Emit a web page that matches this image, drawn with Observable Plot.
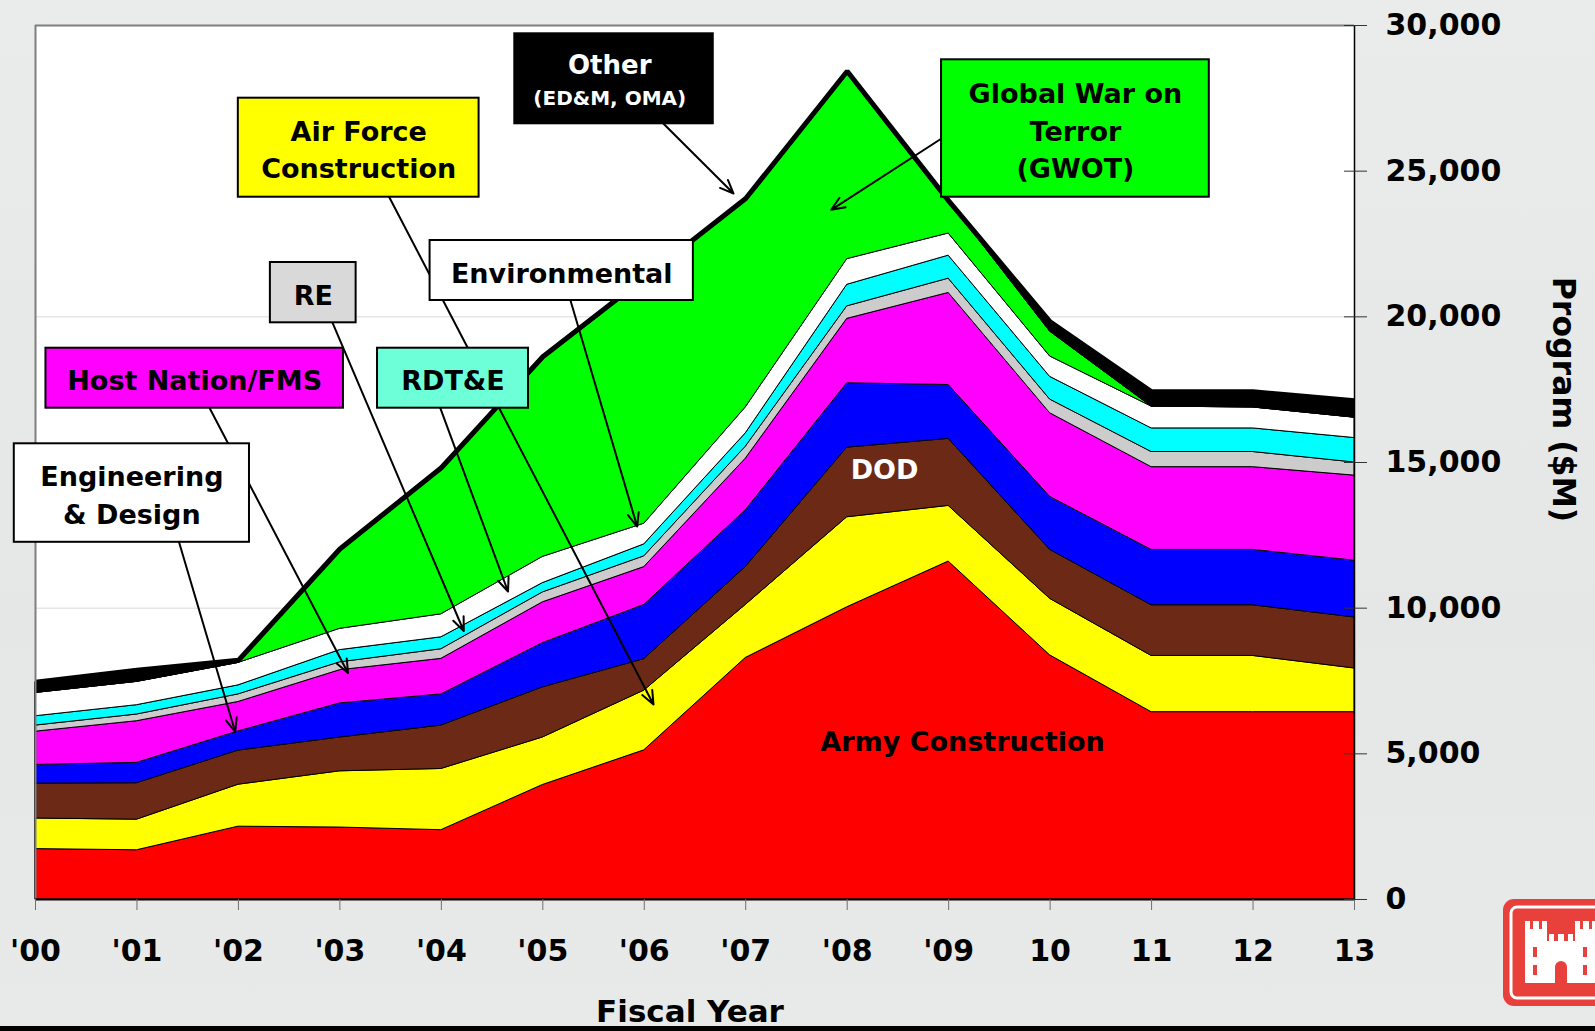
<!DOCTYPE html>
<html>
<head>
<meta charset="utf-8">
<script src="https://cdn.jsdelivr.net/npm/d3@7"></script>
<script src="https://cdn.jsdelivr.net/npm/@observablehq/plot@0.6"></script>
<style>
html, body { margin: 0; padding: 0; }
body { width: 1595px; height: 1031px; overflow: hidden; position: relative;
  background: linear-gradient(180deg, #e9ecea 0%, #e4e7e6 60%, #e7eae9 100%);
  font-family: "DejaVu Sans", sans-serif; }
#chart { position: absolute; left: 0; top: 0; }
#bar { position: absolute; left: 0; top: 1026px; width: 1595px; height: 5px; background: #000; }
#logo { position: absolute; left: 1503px; top: 899px; }
</style>
</head>
<body>
<div id="chart"></div>
<div id="bar"></div>
<svg id="logo" width="92" height="110" viewBox="0 0 92 110">
  <rect x="0" y="0" width="112" height="107" rx="11" fill="#e8403a"/>
  <rect x="8" y="8" width="96" height="91" rx="6" fill="none" stroke="#fff" stroke-width="3"/>
  <g fill="#fff">
    <rect x="22" y="30" width="22" height="54"/>
    <rect x="22" y="22" width="5" height="9"/><rect x="30" y="22" width="6" height="9"/><rect x="39" y="22" width="5" height="9"/>
    <rect x="44" y="42" width="28" height="42"/>
    <rect x="46" y="35" width="5" height="8"/><rect x="55" y="35" width="6" height="8"/><rect x="65" y="35" width="5" height="8"/>
    <rect x="72" y="30" width="22" height="54"/>
    <rect x="72" y="22" width="5" height="9"/><rect x="80" y="22" width="6" height="9"/><rect x="89" y="22" width="5" height="9"/>
  </g>
  <g fill="#e8403a">
    <path d="M52 84 V68 A6 6 0 0 1 64 68 V84 Z"/>
    <rect x="30" y="48" width="4" height="10"/><rect x="80" y="48" width="4" height="10"/>
    <rect x="30" y="66" width="4" height="10"/><rect x="80" y="66" width="4" height="10"/>
  </g>
</svg>
<script>
// ---- data (values in $M) ----
const years = [2000, 2001, 2002, 2003, 2004, 2005, 2006, 2007, 2008, 2009, 2010, 2011, 2012, 2013];
const xLabels = ["'00", "'01", "'02", "'03", "'04", "'05", "'06", "'07", "'08", "'09", "10", "11", "12", "13"];
const yTicks = [0, 5000, 10000, 15000, 20000, 25000, 30000];
const gridValues = [10000, 20000];

const seriesNames = ["Army Construction", "Air Force Construction", "DOD", "Engineering & Design",
  "Host Nation/FMS", "RE", "RDT&E", "Environmental", "Global War on Terror (GWOT)", "Other (ED&M, OMA)"];

const armyConstruction     = [1730, 1690, 2500, 2470, 2380, 3930, 5120, 8290, 10030, 11600, 8380, 6430, 6430, 6430];
const airForceConstruction = [1050, 1050, 1440, 1930, 2100, 1630, 2050, 1820, 3090, 1910, 1940, 1930, 1930, 1500];
const dod                  = [1200, 1250, 1170, 1160, 1490, 1720, 1080, 1300, 2390, 2300, 1680, 1740, 1740, 1750];
const engineeringDesign    = [640, 700, 660, 1170, 1070, 1520, 1860, 1950, 2210, 1850, 1820, 1900, 1900, 1950];
const hostNationFMS        = [1140, 1430, 1010, 1140, 1220, 1400, 1300, 1770, 2210, 3160, 2870, 2840, 2840, 2920];
const re                   = [210, 230, 260, 270, 330, 340, 370, 410, 430, 490, 470, 520, 520, 450];
const rdte                 = [320, 320, 310, 420, 410, 320, 410, 460, 740, 790, 780, 810, 810, 840];
const environmental        = [800, 800, 770, 730, 790, 900, 710, 890, 880, 760, 700, 750, 720, 700];
const gwot                 = [0, 0, 0, 2740, 5030, 6870, 8430, 7170, 6450, 1120, 850, 0, 0, 0];
const other                = [370, 400, 90, 0, 0, 0, 0, 0, 0, 0, 340, 510, 540, 580];

// annotation callouts (in data units: year / $M)
const boxKeys   = ["other", "airForce", "gwot", "environmental", "re", "hostNation", "rdte", "engDesign"];
const boxText   = ["", "Air Force\nConstruction", "Global War on\nTerror\n(GWOT)", "Environmental", "RE", "Host Nation/FMS", "RDT&E", "Engineering\n& Design"];
const boxX1     = [2004.724, 2001.999, 2008.930, 2003.889, 2002.315, 2000.103, 2003.371, 1999.791];
const boxX2     = [2006.680, 2004.372, 2011.569, 2006.484, 2003.160, 2003.035, 2004.859, 2002.109];
const boxY1     = [29715, 27505, 28823, 22620, 21865, 18923, 18923, 15642];
const boxY2     = [26626, 24106, 24106, 20561, 19795, 16864, 16864, 12261];
const otherTitle = ["Other", "(ED&M, OMA)"];
const otherTitleX = [2005.66, 2005.66];
const otherTitleY = [28637, 27494];

const arrowX1 = [2006.190, 2008.930, 2003.487, 2005.273, 2002.928, 2003.990, 2001.717, 2001.415];
const arrowY1 = [26626, 26121, 24106, 20561, 19795, 16864, 16864, 12261];
const arrowX2 = [2006.880, 2007.842, 2006.091, 2005.930, 2004.221, 2004.657, 2003.080, 2001.968];
const arrowY2 = [24233, 23674, 6693, 12803, 9216, 10572, 7775, 5756];

const inlineLabels = ["DOD", "Army Construction"];
const inlineX = [2008.368, 2009.137];
const inlineY = [14725, 5389];

// ---- styles ----
const seriesColors = ["#ff0000", "#ffff00", "#6b2916", "#0000ff", "#ff00ff", "#cccccc", "#00ffff", "#ffffff", "#00ff00", "#000000"];
const boxFill = {other: "#000000", airForce: "#ffff00", gwot: "#00ff00", environmental: "#ffffff",
  re: "#d9d9d9", hostNation: "#ff00ff", rdte: "#6cffd8", engDesign: "#ffffff"};
const FONT = "DejaVu Sans, sans-serif";

// ---- build tables ----
const seriesValues = [armyConstruction, airForceConstruction, dod, engineeringDesign, hostNationFMS,
  re, rdte, environmental, gwot, other];
const rows = years.flatMap((yr, i) => seriesNames.map((n, k) => ({year: yr, series: n, value: seriesValues[k][i]})));
const totals = years.map((_, i) => d3.sum(seriesValues, s => s[i]));
const boxes = boxKeys.map((k, i) => ({key: k, text: boxText[i], x1: boxX1[i], x2: boxX2[i], y1: boxY1[i], y2: boxY2[i]}));
const arrows = arrowX1.map((_, i) => ({x1: arrowX1[i], y1: arrowY1[i], x2: arrowX2[i], y2: arrowY2[i]}));

const chart = Plot.plot({
  width: 1595, height: 1031,
  marginLeft: 35, marginRight: 241, marginTop: 25, marginBottom: 132,
  x: {domain: [2000, 2013]},
  y: {domain: [0, 30000]},
  color: {domain: seriesNames, range: seriesColors},
  style: {background: "transparent", fontFamily: FONT, fontWeight: "bold", color: "black", overflow: "visible"},
  marks: [
    Plot.frame({fill: "white", stroke: "none"}),
    Plot.ruleY(gridValues, {stroke: "#e6e6e6", strokeWidth: 1.5}),
    Plot.areaY(rows, {x: "year", y: "value", z: "series", fill: "series", order: seriesNames,
      stroke: "black", strokeWidth: 1}),
    Plot.lineY(totals, {x: years, stroke: "black", strokeWidth: 5, strokeLinejoin: "miter", strokeLinecap: "butt"}),
    Plot.ruleX([2000], {stroke: "#7f7f7f", strokeWidth: 2}),
    Plot.ruleY([30000], {stroke: "#7f7f7f", strokeWidth: 2}),
    Plot.ruleX([2013], {stroke: "black", strokeWidth: 1.5}),
    Plot.ruleY([0], {stroke: "black", strokeWidth: 2}),
    Plot.axisX({ticks: years, tickFormat: d => xLabels[years.indexOf(d)], tickSize: 11, tickPadding: 29,
      stroke: "#6f6f6f", fill: "black", fontSize: 30, fontWeight: "bold", fontFamily: FONT, label: null}),
    Plot.axisY({anchor: "right", ticks: yTicks, tickFormat: d3.format(","), tickSize: 23, dx: -11, tickPadding: 19,
      stroke: "#333", fill: "black", fontSize: 30, fontWeight: "bold", fontFamily: FONT, label: null}),
    Plot.text(["Program ($M)"], {frameAnchor: "right", textAnchor: "middle", rotate: 90, dx: 209, dy: -63,
      fontSize: 31.5, fontWeight: "bold", fontFamily: FONT, fill: "black"}),
    Plot.text(["Fiscal Year"], {frameAnchor: "bottom", textAnchor: "middle", dx: -5, dy: 122,
      fontSize: 31, fontWeight: "bold", fontFamily: FONT, fill: "black"}),
    Plot.arrow(arrows, {x1: "x1", y1: "y1", x2: "x2", y2: "y2", stroke: "black", strokeWidth: 2,
      headLength: 11, headAngle: 45}),
    Plot.rect(boxes, {x1: "x1", x2: "x2", y1: "y1", y2: "y2", fill: d => boxFill[d.key], stroke: "black", strokeWidth: 2}),
    Plot.text(boxes.filter(d => d.text), {x: d => (d.x1 + d.x2) / 2, y: d => (d.y1 + d.y2) / 2, text: "text",
      fontSize: 27, fontWeight: "bold", fontFamily: FONT, fill: "black", lineHeight: 1.39}),
    Plot.text(otherTitle, {x: otherTitleX, y: otherTitleY,
      fontSize: (d, i) => i === 0 ? 26 : 20, fontWeight: "bold", fontFamily: FONT, fill: "white"}),
    Plot.text(inlineLabels, {x: inlineX, y: inlineY, fontSize: 27, fontWeight: "bold", fontFamily: FONT,
      fill: (d, i) => i === 0 ? "white" : "black"})
  ]
});
document.getElementById("chart").appendChild(chart);
</script>
</body>
</html>
